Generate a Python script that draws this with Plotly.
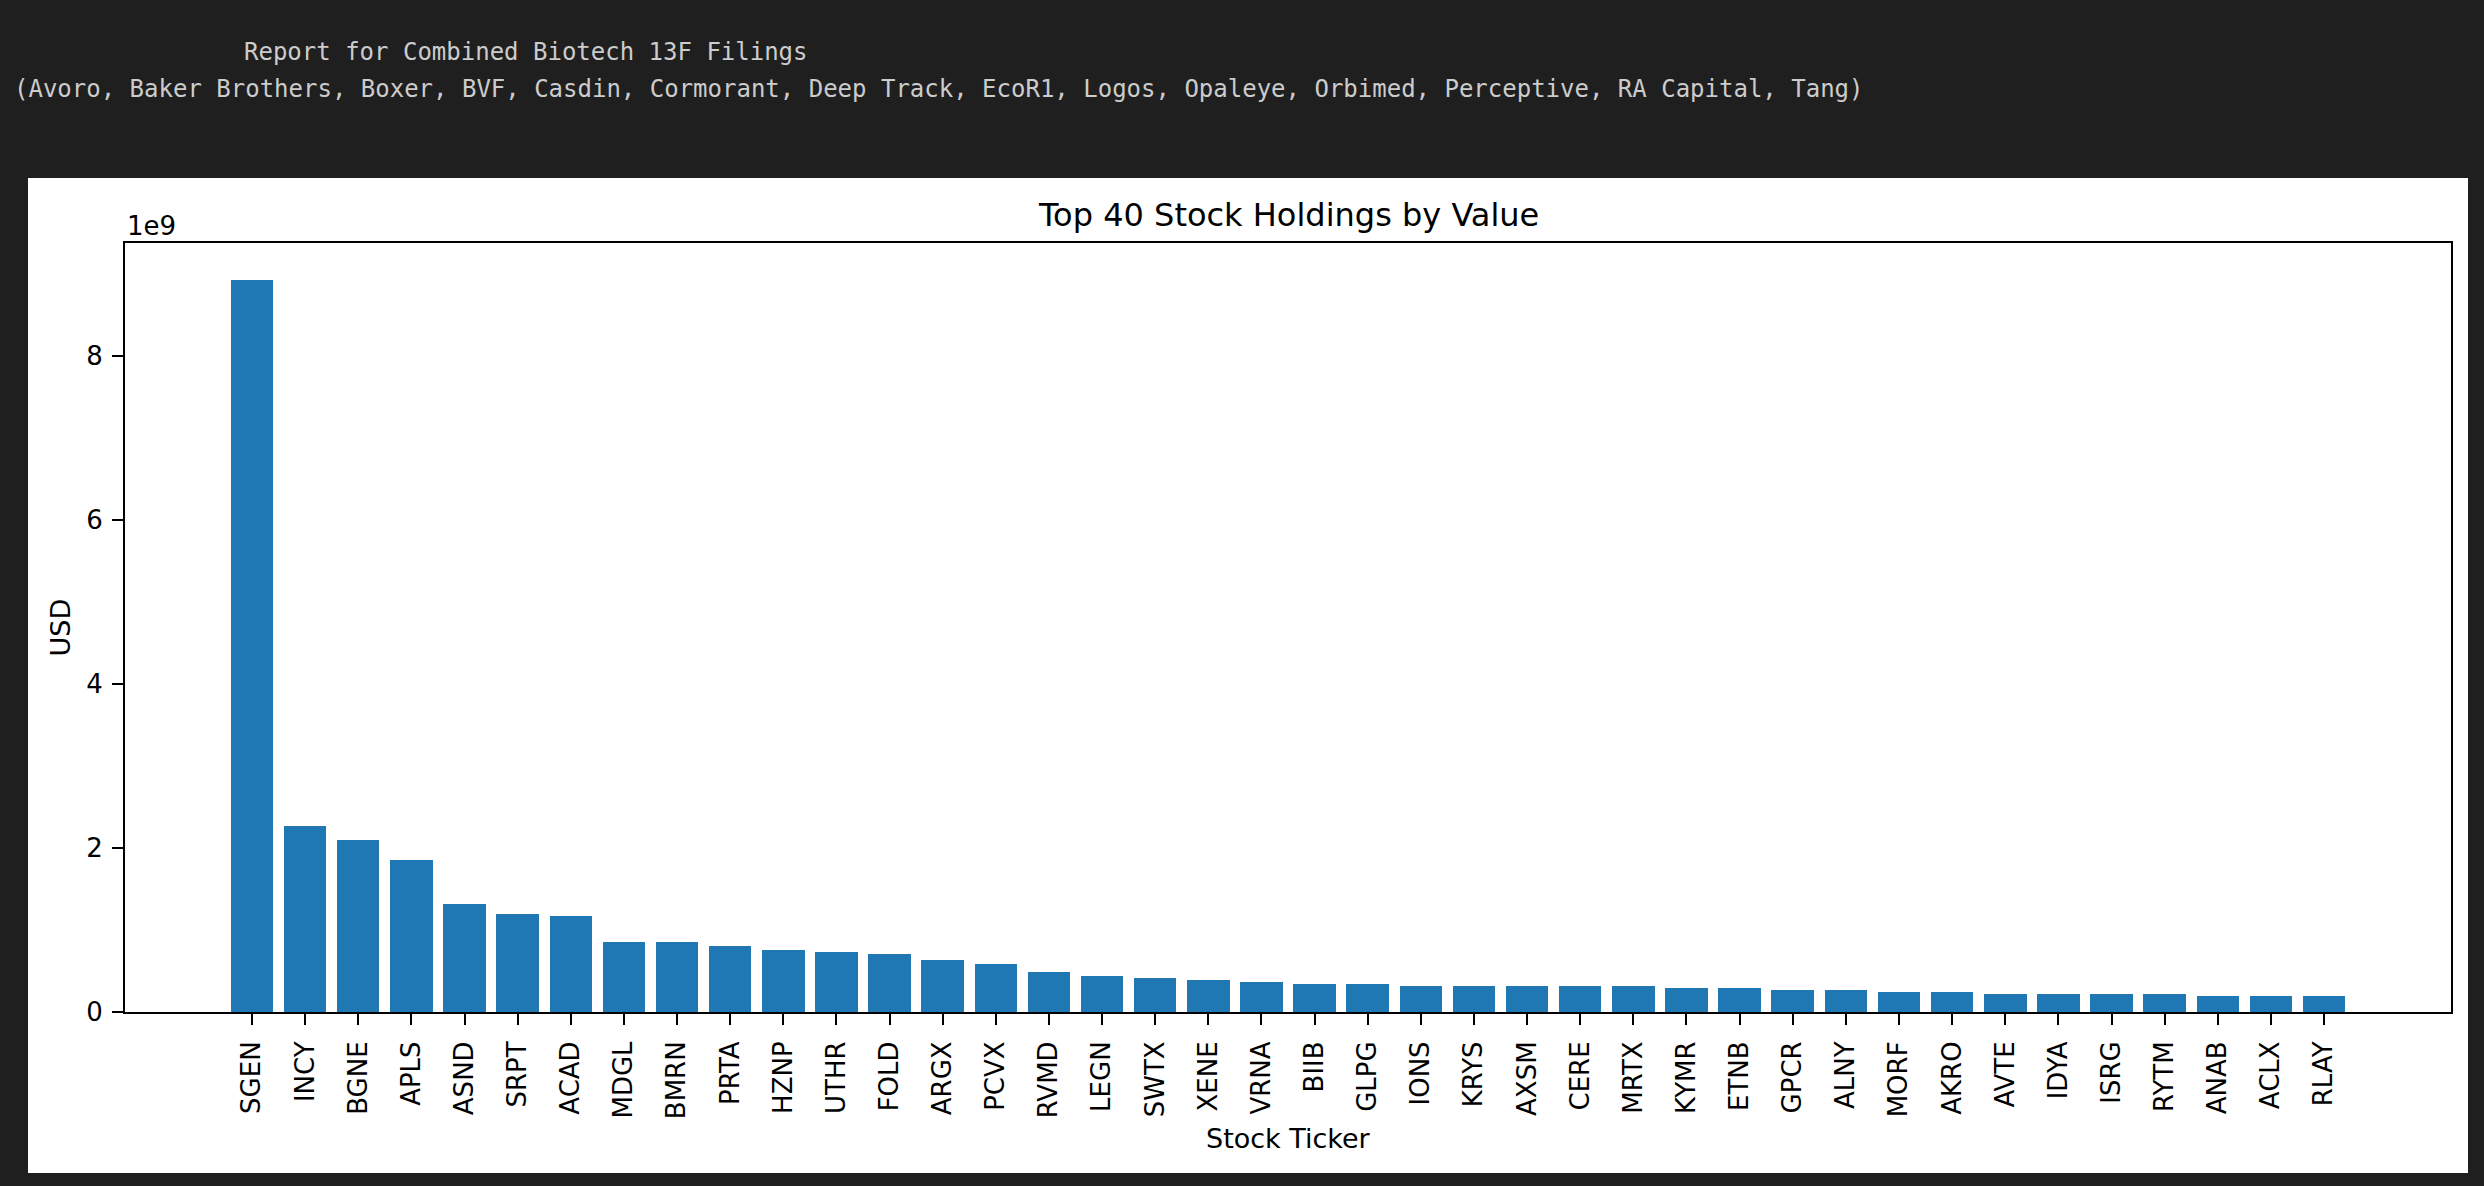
import plotly.graph_objects as go

# ---------------- data ----------------
tickers = ["SGEN", "INCY", "BGNE", "APLS", "ASND", "SRPT", "ACAD", "MDGL", "BMRN", "PRTA",
           "HZNP", "UTHR", "FOLD", "ARGX", "PCVX", "RVMD", "LEGN", "SWTX", "XENE", "VRNA",
           "BIIB", "GLPG", "IONS", "KRYS", "AXSM", "CERE", "MRTX", "KYMR", "ETNB", "GPCR",
           "ALNY", "MORF", "AKRO", "AVTE", "IDYA", "ISRG", "RYTM", "ANAB", "ACLX", "RLAY"]
values_bn = [8.93, 2.27, 2.095, 1.85, 1.315, 1.19, 1.17, 0.853, 0.853, 0.804,
             0.751, 0.731, 0.706, 0.633, 0.585, 0.487, 0.438, 0.414, 0.390, 0.365,
             0.341, 0.341, 0.317, 0.317, 0.317, 0.317, 0.317, 0.292, 0.292, 0.268,
             0.268, 0.244, 0.244, 0.219, 0.219, 0.219, 0.219, 0.198, 0.198, 0.198]
values_usd = [v * 1e9 for v in values_bn]
y_tick_vals = [0, 2e9, 4e9, 6e9, 8e9]
y_tick_text = ["0", "2", "4", "6", "8"]

header_line1 = "Report for Combined Biotech 13F Filings"
header_line2 = ("(Avoro, Baker Brothers, Boxer, BVF, Casdin, Cormorant, Deep Track, EcoR1, "
                "Logos, Opaleye, Orbimed, Perceptive, RA Capital, Tang)")
chart_title = "Top 40 Stock Holdings by Value"
x_label = "Stock Ticker"
y_label = "USD"
offset_text = "1e9"

# ---------------- layout geometry (pixels) ----------------
W, H = 2484, 1186
L, R, T, B = 125, 2451, 243, 1012  # plot-area edges


def px(x):
    return (x - L) / (R - L)


def py(y):
    return (B - y) / (B - T)


n = len(tickers)
xpad = 0.05 * (n - 1 + 0.8)
x_range = [-0.4 - xpad, n - 1 + 0.4 + xpad]
y_range = [0, max(values_usd) * 1.05]

FONT = "DejaVu Sans, Verdana, sans-serif"
MONO = "DejaVu Sans Mono, Liberation Mono, monospace"
BG = "#1f1f1f"
HEADER_COLOR = "#cccccc"

fig = go.Figure(go.Bar(
    x=tickers,
    y=values_usd,
    width=0.8,
    marker=dict(color="#1f77b4", line=dict(width=0)),
))

fig.update_layout(
    width=W, height=H,
    margin=dict(l=L, r=W - R, t=T, b=H - B, pad=0),
    paper_bgcolor=BG,
    plot_bgcolor="white",
    showlegend=False,
    font=dict(family=FONT, size=26, color="black"),
    bargap=0,
)

fig.update_xaxes(
    type="category",
    range=x_range,
    showgrid=False, zeroline=False,
    showline=True, linecolor="black", linewidth=2, mirror=True,
    ticks="outside", ticklen=11, tickwidth=2, tickcolor="black",
    tickangle=-90,
    tickfont=dict(family=FONT, size=26, color="black"),
    ticklabelstandoff=6,
)
fig.update_yaxes(
    range=y_range,
    showgrid=False, zeroline=False,
    showline=True, linecolor="black", linewidth=2, mirror=True,
    ticks="outside", ticklen=11, tickwidth=2, tickcolor="black",
    tickmode="array", tickvals=y_tick_vals, ticktext=y_tick_text,
    tickfont=dict(family=FONT, size=26, color="black"),
    ticklabelstandoff=4,
)

# white panel behind the chart
fig.add_shape(type="rect", xref="paper", yref="paper",
              x0=px(28), x1=px(2468), y0=py(1173), y1=py(178),
              fillcolor="white", line=dict(width=0), layer="below")

annotations = [
    dict(text=header_line1, x=px(242), y=py(52), xanchor="left", yanchor="middle",
         font=dict(family=MONO, size=24, color=HEADER_COLOR)),
    dict(text=header_line2, x=px(12), y=py(89), xanchor="left", yanchor="middle",
         font=dict(family=MONO, size=24, color=HEADER_COLOR)),
    dict(text=chart_title, x=0.5, y=py(215), xanchor="center", yanchor="middle",
         font=dict(family=FONT, size=32, color="black")),
    dict(text=offset_text, x=0, y=py(226), xanchor="left", yanchor="middle",
         font=dict(family=FONT, size=26, color="black")),
    dict(text=x_label, x=0.5, y=py(1138), xanchor="center", yanchor="middle",
         font=dict(family=FONT, size=27, color="black")),
    dict(text=y_label, x=px(60), y=0.5, xanchor="center", yanchor="middle", textangle=-90,
         font=dict(family=FONT, size=27, color="black")),
]
for a in annotations:
    a.update(xref="paper", yref="paper", showarrow=False)
fig.update_layout(annotations=annotations)

fig.write_html(
    "out.html",
    config={"displayModeBar": False},
    post_script="document.body.style.margin='0';document.body.style.background='%s';" % BG,
)
